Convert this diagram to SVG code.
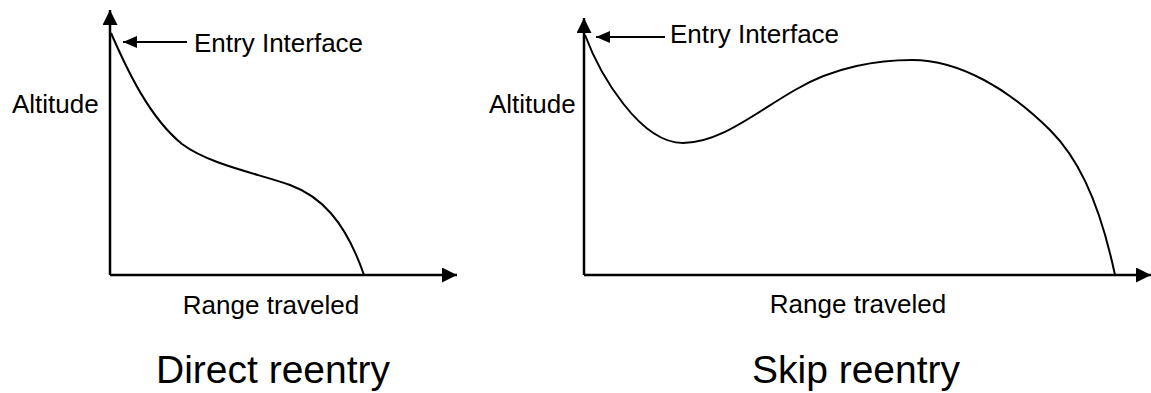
<svg xmlns="http://www.w3.org/2000/svg" width="1151" height="393" viewBox="0 0 1151 393">
<style>
.ax{stroke:#000;stroke-width:2.5;fill:none}
.cv{stroke:#000;stroke-width:2;fill:none}
.ea{stroke:#000;stroke-width:2;fill:none}
.lb{font-family:"Liberation Sans",Arial,sans-serif;font-size:26px;fill:#000}
.tt{font-family:"Liberation Sans",Arial,sans-serif;font-size:39px;fill:#000}
</style>
<defs>
<marker id="ah" markerUnits="userSpaceOnUse" markerWidth="15" markerHeight="15" refX="15" refY="7.5" orient="auto">
<path d="M0,0 L15,7.5 L0,15 z" fill="#000"/>
</marker>
<marker id="eh" markerUnits="userSpaceOnUse" markerWidth="14" markerHeight="12" refX="14" refY="6" orient="auto">
<path d="M0,0 L14,6 L0,12 z" fill="#000"/>
</marker>
</defs>
<rect width="1151" height="393" fill="#fff"/>
<g id="connectors">
<line class="ax" x1="110" y1="275" x2="110" y2="10" marker-end="url(#ah)"/>
<line class="ax" x1="110" y1="275" x2="457" y2="275" marker-end="url(#ah)"/>
<line class="ea" x1="187" y1="42" x2="123" y2="42" marker-end="url(#eh)"/>
<line class="ax" x1="584" y1="275" x2="584" y2="18" marker-end="url(#ah)"/>
<line class="ax" x1="584" y1="275" x2="1151" y2="275" marker-end="url(#ah)"/>
<line class="ea" x1="665" y1="37" x2="596" y2="37" marker-end="url(#eh)"/>
</g>
<g id="direct-curve">
<path class="cv" d="M111,33 C128,72 150,118 182,144 C210,165 260,174 290,185 C320,196 345,220 364,275"/>
</g>
<g id="skip-curve">
<path class="cv" d="M585,35 C600,75 640,143 683,143 C720,143 755,113 795,90 C835,66 880,60 912,60 C960,60 1010,90 1050,130 C1075,155 1098,195 1115,275"/>
</g>
<g id="direct-labels">
<text class="lb" x="194" y="52">Entry Interface</text>
<text class="lb" x="12" y="113">Altitude</text>
<text class="lb" x="271" y="314" text-anchor="middle">Range traveled</text>
<text class="tt" x="273" y="383" text-anchor="middle">Direct reentry</text>
</g>
<g id="skip-labels">
<text class="lb" x="670" y="43">Entry Interface</text>
<text class="lb" x="489" y="113">Altitude</text>
<text class="lb" x="858" y="313" text-anchor="middle">Range traveled</text>
<text class="tt" x="856" y="383" text-anchor="middle">Skip reentry</text>
</g>
</svg>
